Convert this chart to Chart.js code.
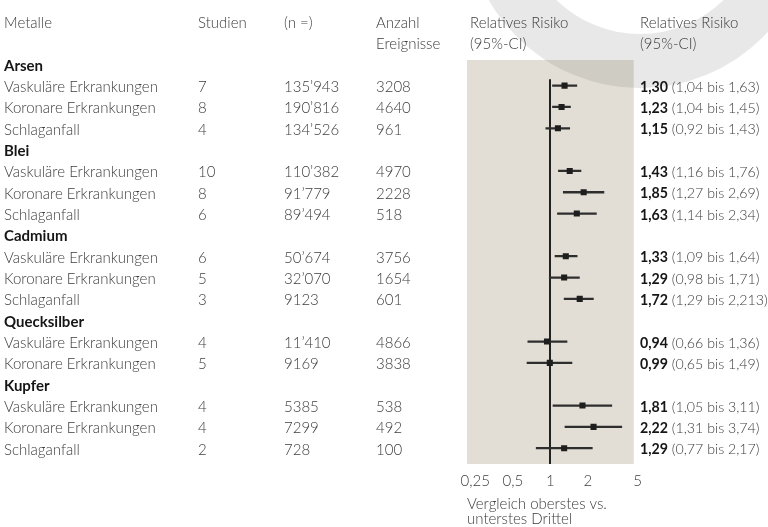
<!DOCTYPE html>
<html>
<head>
<meta charset="utf-8">
<script src="https://cdn.jsdelivr.net/npm/chart.js@4.4.1/dist/chart.umd.min.js"></script>
<style>
  html, body { margin: 0; padding: 0; background: #fff; }
  #wrap { width: 768px; height: 527px; position: relative; }
</style>
</head>
<body>
<div id="wrap"><canvas id="forest"></canvas></div>
<script>
// Rows of the table, top to bottom. Group rows (metals) carry null values.
const rowLabels = [
  'Arsen', 'Vaskuläre Erkrankungen', 'Koronare Erkrankungen', 'Schlaganfall',
  'Blei', 'Vaskuläre Erkrankungen', 'Koronare Erkrankungen', 'Schlaganfall',
  'Cadmium', 'Vaskuläre Erkrankungen', 'Koronare Erkrankungen', 'Schlaganfall',
  'Quecksilber', 'Vaskuläre Erkrankungen', 'Koronare Erkrankungen',
  'Kupfer', 'Vaskuläre Erkrankungen', 'Koronare Erkrankungen', 'Schlaganfall'
];
const studies      = [null, 7, 8, 4, null, 10, 8, 6, null, 6, 5, 3, null, 4, 5, null, 4, 4, 2];
const participants = [null, 135943, 190816, 134526, null, 110382, 91779, 89494, null, 50674, 32070, 9123, null, 11410, 9169, null, 5385, 7299, 728];
const events       = [null, 3208, 4640, 961, null, 4970, 2228, 518, null, 3756, 1654, 601, null, 4866, 3838, null, 538, 492, 100];
const relRisk      = [null, 1.30, 1.23, 1.15, null, 1.43, 1.85, 1.63, null, 1.33, 1.29, 1.72, null, 0.94, 0.99, null, 1.81, 2.22, 1.29];
const ciLow        = [null, 1.04, 1.04, 0.92, null, 1.16, 1.27, 1.14, null, 1.09, 0.98, 1.29, null, 0.66, 0.65, null, 1.05, 1.31, 0.77];
const ciHigh       = [null, 1.63, 1.45, 1.43, null, 1.76, 2.69, 2.34, null, 1.64, 1.71, 2.213, null, 1.36, 1.49, null, 3.11, 3.74, 2.17];
const xTicks       = [0.25, 0.5, 1, 2, 5];
const NULL_EFFECT  = 1;

const FONT = 'Lato, "Noto Sans", sans-serif';
const FS = 15;
const FS_RR = 14.2;
const TEXT = '#3c3c3c';
const STRONG = '#161616';
const PANEL = '#e2ded5';
const TEXT_NUDGE = 1.5;

const fmtDec = v => {
  let s = v.toFixed(3);
  if (s.endsWith('0')) s = s.slice(0, -1);
  return s.replace('.', ',');
};
const fmtCount = v => v >= 10000 ? String(v).replace(/(\d)(?=(\d{3})+$)/g, '$1\u2019') : String(v);

const dataRows = rowLabels.map((_, i) => i).filter(i => relRisk[i] !== null);

const tablePlugin = {
  id: 'forestTable',
  beforeDraw(chart) {
    const { ctx, chartArea: a } = chart;
    ctx.save();
    ctx.fillStyle = '#fff';
    ctx.fillRect(0, 0, chart.width, chart.height);
    ctx.fillStyle = PANEL;
    ctx.fillRect(a.left, a.top, a.right - a.left, a.bottom - a.top);
    // decorative swoosh in the header corner
    ctx.beginPath();
    ctx.arc(640, -86, 174, 0, Math.PI * 2);
    ctx.arc(640, -86, 120, 0, Math.PI * 2, true);
    ctx.fillStyle = 'rgba(110,110,110,0.16)';
    ctx.fill('evenodd');
    ctx.restore();
  },
  beforeDatasetsDraw(chart) {
    const { ctx, chartArea: a, scales: { x, y } } = chart;
    const px = Math.round(x.getPixelForValue(NULL_EFFECT));
    ctx.save();
    ctx.strokeStyle = '#222';
    ctx.lineWidth = 2;
    ctx.beginPath();
    ctx.moveTo(px, y.getPixelForValue(0.7));
    ctx.lineTo(px, a.bottom);
    ctx.stroke();
    ctx.restore();
  },
  afterDraw(chart) {
    const { ctx, scales: { y } } = chart;
    const reg = `300 ${FS}px ${FONT}`;
    const bold = `bold ${FS}px ${FONT}`;
    const regRR = `300 ${FS_RR}px ${FONT}`;
    const boldRR = `bold ${FS_RR}px ${FONT}`;
    ctx.save();
    ctx.textBaseline = 'middle';
    ctx.textAlign = 'left';
    const put = (txt, x, row, font, color) => {
      ctx.font = font; ctx.fillStyle = color;
      ctx.fillText(txt, x, y.getPixelForValue(row) + TEXT_NUDGE);
    };
    // column headers
    put('Metalle', 4, -2, reg, TEXT);
    put('Studien', 198, -2, reg, TEXT);
    put('(n =)', 284, -2, reg, TEXT);
    put('Anzahl', 376, -2, reg, TEXT);
    put('Ereignisse', 376, -1, reg, TEXT);
    put('Relatives Risiko', 470, -2, reg, TEXT);
    put('(95%-CI)', 470, -1, reg, TEXT);
    put('Relatives Risiko', 640, -2, reg, TEXT);
    put('(95%-CI)', 640, -1, reg, TEXT);
    rowLabels.forEach((label, i) => {
      if (relRisk[i] === null) {
        put(label, 4, i, bold, STRONG);
        return;
      }
      put(label, 4, i, reg, TEXT);
      put(String(studies[i]), 198, i, reg, TEXT);
      put(fmtCount(participants[i]), 284, i, reg, TEXT);
      put(String(events[i]), 376, i, reg, TEXT);
      const est = fmtDec(relRisk[i]);
      put(est, 640, i, boldRR, STRONG);
      ctx.font = boldRR;
      const w = ctx.measureText(est).width;
      put(` (${fmtDec(ciLow[i])} bis ${fmtDec(ciHigh[i])})`, 640 + w, i, regRR, TEXT);
    });
    ctx.restore();
  }
};

new Chart(document.getElementById('forest'), {
  type: 'scatter',
  data: {
    datasets: [
      {
        type: 'scatter',
        data: dataRows.map(i => ({ x: relRisk[i], y: i })),
        pointStyle: 'rect',
        pointRadius: 4.3,
        pointHoverRadius: 4.3,
        backgroundColor: '#1e1e1e',
        borderWidth: 0,
        order: 1
      },
      {
        type: 'bar',
        indexAxis: 'y',
        data: dataRows.map(i => ({ y: i, x: [ciLow[i], ciHigh[i]] })),
        backgroundColor: '#2e2e2e',
        borderWidth: 0,
        barThickness: 1.6,
        order: 2
      }
    ]
  },
  options: {
    responsive: true,
    maintainAspectRatio: false,
    animation: false,
    events: [],
    layout: { padding: { left: 467, right: 134.3, top: 60, bottom: 0 } },
    plugins: { legend: { display: false }, tooltip: { enabled: false } },
    scales: {
      x: {
        type: 'logarithmic',
        position: 'bottom',
        min: 1 / 4.66,
        max: 4.66,
        offset: false,
        afterBuildTicks: s => { s.ticks = xTicks.map(v => ({ value: v })); },
        afterFit: s => { s.height = 63; },
        grid: { display: false, drawTicks: false },
        border: { display: false },
        ticks: {
          autoSkip: false,
          maxRotation: 0,
          padding: 8,
          color: TEXT,
          font: { family: FONT, size: FS, weight: '300' },
          callback: v => String(v).replace('.', ',')
        },
        title: {
          display: true,
          align: 'start',
          text: ['Vergleich oberstes vs.', 'unterstes Drittel'],
          color: TEXT,
          padding: 0,
          font: { family: FONT, size: FS, weight: '300', lineHeight: '15px' }
        }
      },
      y: {
        type: 'linear',
        reverse: true,
        offset: false,
        min: -0.2,
        max: 18.74,
        display: false
      }
    }
  },
  plugins: [tablePlugin]
});
</script>
</body>
</html>
